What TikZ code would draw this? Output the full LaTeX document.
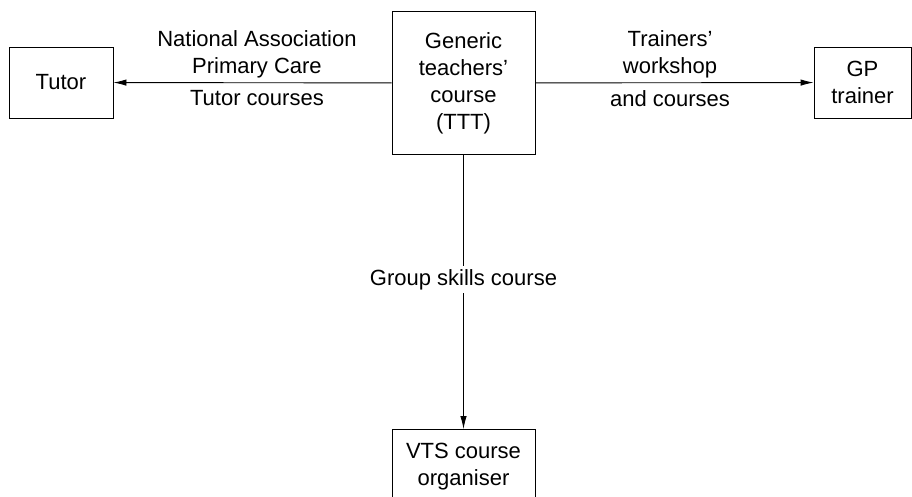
\documentclass[tikz,border=0pt]{standalone}
\usepackage{fontspec}
\setmainfont{Liberation Sans}
\usepackage{tikz}
\usetikzlibrary{arrows.meta,positioning,calc}

\begin{document}
\begin{tikzpicture}[x=1pt,y=-1pt,
  course/.style={draw=black,line width=0.9pt,align=center,inner sep=0pt},
  route/.style={line width=0.9pt,-{Latex[length=13pt,width=6.5pt]}},
  lblabove/.style={above,align=center,inner sep=4.4pt},
  lblbelow/.style={below,align=center,inner sep=7.2pt},
  font=\fontsize{22}{27}\selectfont]
\useasboundingbox (0,0) rectangle (912,497);
\node[course] (ttt)[minimum width=143pt,minimum height=143pt] at (463.5,83) {Generic\\teachers'\\course\\(TTT)};
\node[course] (tutor)[minimum width=104pt,minimum height=71pt] at (61,82.5) {Tutor};
\node[course] (gp)[minimum width=97pt,minimum height=71pt] at (862.5,82.5) {GP\\trainer};
\node[course] (vts)[minimum width=143pt,minimum height=74pt,anchor=north] at (463.5,429) {VTS course\\organiser};
\draw[route] (ttt)--(tutor) node[lblabove,pos=0.484] (napc) {National Association\\Primary Care}
  node[lblbelow,pos=0.484] (tc) {Tutor courses};
\draw[route] (ttt)--(gp) node[lblabove,pos=0.484] (tw) {Trainers'\\workshop}
  node[lblbelow,pos=0.484] (ac) {and courses};
\draw[route] (ttt)--(vts) node[pos=0.455,fill=white,inner sep=3pt] (gs) {Group skills course};
\end{tikzpicture}
\end{document}
